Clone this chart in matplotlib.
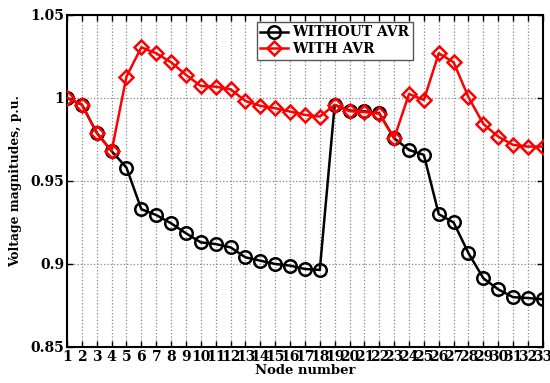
import matplotlib
matplotlib.use("Agg")
import matplotlib.pyplot as plt

nodes = list(range(1, 34))
without_avr = [1.000, 0.996, 0.979, 0.968, 0.958, 0.933, 0.9295, 0.9245, 0.9185, 0.913,
               0.912, 0.910, 0.904, 0.902, 0.900, 0.899, 0.897, 0.8964, 0.9958, 0.9924,
               0.992, 0.9908, 0.9757, 0.9687, 0.9657, 0.930, 0.925, 0.9065, 0.8914, 0.8847,
               0.880, 0.8795, 0.8787]
with_avr = [1.000, 0.996, 0.979, 0.968, 1.0129, 1.0305, 1.0269, 1.0215, 1.0139, 1.0072,
            1.0068, 1.0052, 0.9982, 0.9952, 0.9938, 0.9918, 0.9898, 0.9888, 0.9958, 0.992,
            0.9915, 0.9905, 0.9757, 1.0024, 0.9988, 1.0269, 1.0215, 1.0004, 0.9843, 0.9767,
            0.9717, 0.9707, 0.9707]
y_ticks = [0.85, 0.9, 0.95, 1.0, 1.05]
y_tick_labels = ["0.85", "0.9", "0.95", "1", "1.05"]

plt.rcParams['font.family'] = ['DejaVu Serif']
plt.rcParams['font.weight'] = 'bold'

fig = plt.figure(figsize=(5.5, 3.83), dpi=100)
ax = fig.add_axes([0.1218, 0.094, 0.8652, 0.867])

ax.plot(nodes, without_avr, color='black', lw=1.8, marker='o', ms=9,
        mfc='none', mec='black', mew=1.8, label='WITHOUT AVR', zorder=3)
ax.plot(nodes, with_avr, color='red', lw=1.8, marker='D', ms=7,
        mfc='none', mec='red', mew=1.8, label='WITH AVR', zorder=4)

ax.set_xlim(1, 33)
ax.set_ylim(0.85, 1.05)
ax.set_xticks(nodes)
ax.set_xticklabels([str(n) for n in nodes], fontsize=10, fontweight='bold')
ax.set_yticks(y_ticks)
ax.set_yticklabels(y_tick_labels, fontsize=10, fontweight='bold')
ax.tick_params(direction='in', top=True, right=True, length=4, width=1, pad=2)
ax.grid(True, linestyle=':', color='#888888', lw=0.9)
for s in ax.spines.values():
    s.set_linewidth(1.5)

ax.set_xlabel('Node number', fontsize=9.5, fontweight='bold', labelpad=0)
ax.set_ylabel('Voltage magnitudes, p.u.', fontsize=8.8, fontweight='bold', labelpad=6)

leg = ax.legend(loc='upper left', bbox_to_anchor=(0.399, 0.979), borderaxespad=0,
                prop={'weight': 'bold', 'size': 10}, fancybox=False,
                edgecolor='#555555', framealpha=1, borderpad=0.25,
                labelspacing=0.2, handlelength=2.0, handletextpad=0.3)
leg.get_frame().set_linewidth(1.0)

fig.savefig('out.png', dpi=100)
